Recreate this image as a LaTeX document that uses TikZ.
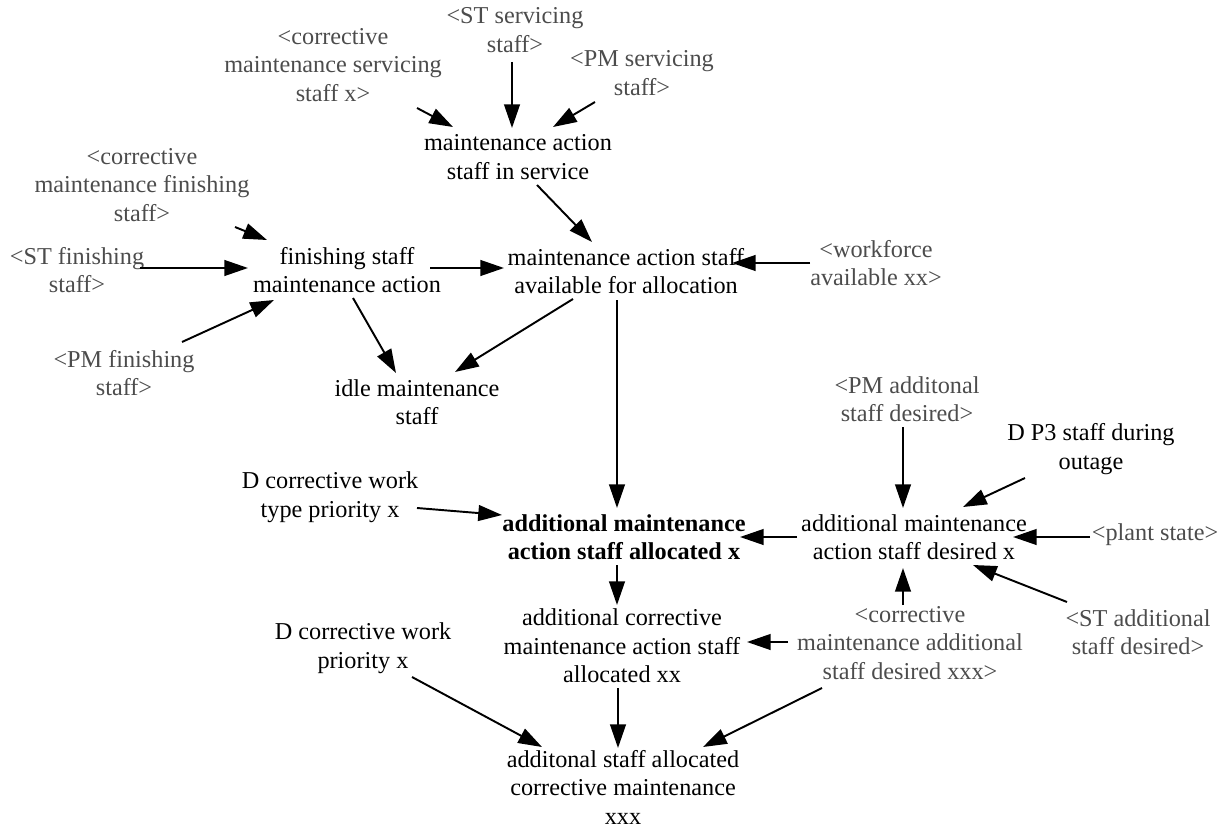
\documentclass[tikz,border=0pt]{standalone}
\usepackage{fontspec}
\setmainfont{Liberation Serif}
\usetikzlibrary{arrows.meta,calc}
\tikzset{
  var/.style={align=center,inner sep=1pt,font=\fontsize{13.8}{16.2}\selectfont},
  shadow/.style={var,text=black!70},
  arr/.style={line width=1.1pt,-{Triangle[length=13.5pt,width=9pt]}}
}
\begin{document}
\begin{tikzpicture}[x=0.02cm,y=-0.02cm]
\useasboundingbox (0,0) rectangle (1225,828);
% nodes
\node[shadow] (csrv) at (333,65) {<corrective\\maintenance servicing\\staff x>};
\node[shadow] (stsrv) at (515,30) {<ST servicing\\staff>};
\node[shadow] (pmsrv) at (642,73) {<PM servicing\\staff>};
\node[var] (insrv) at (518,157) {maintenance action\\staff in service};
\node[shadow] (cfin) at (142,185) {<corrective\\maintenance finishing\\staff>};
\node[shadow] (stfin) at (77,270) {<ST finishing\\staff>};
\node[var] (fin) at (347,270) {finishing staff\\maintenance action};
\node[var] (avail) at (626,271) {maintenance action staff\\available for allocation};
\node[shadow] (wf) at (876,263) {<workforce\\available xx>};
\node[shadow] (pmfin) at (124,373) {<PM finishing\\staff>};
\node[var] (idle) at (417,402) {idle maintenance\\staff};
\node[shadow] (pmadd) at (907,399) {<PM additonal\\staff desired>};
\node[var] (dp3) at (1091,449) {D P3 staff during\\outage};
\node[var] (dtype) at (330,497) {D corrective work\\type priority x};
\node[var,font=\fontsize{13.8}{16.2}\selectfont\bfseries] (alloc) at (624,537) {additional maintenance\\action staff allocated x};
\node[var] (desired) at (914,537) {additional maintenance\\action staff desired x};
\node[shadow] (plant) at (1155,535) {<plant state>};
\node[var] (acm) at (622,646) {additional corrective\\maintenance action staff\\allocated xx};
\node[var] (dprio) at (363,648) {D corrective work\\priority x};
\node[shadow] (cmadd) at (910,643) {<corrective\\maintenance additional\\staff desired xxx>};
\node[shadow] (stadd) at (1138,632) {<ST additional\\staff desired>};
\node[var] (xxx) at (623,787) {additonal staff allocated\\corrective maintenance\\xxx};
% connectors
\draw[arr] ($(csrv)+(84,43)$) -- ($(insrv)+(-65,-30)$);
\draw[arr] ($(stsrv)+(-3,32)$) -- ($(insrv)+(-6,-29)$);
\draw[arr] ($(pmsrv)+(-47,29)$) -- ($(insrv)+(35,-30)$);
\draw[arr] ($(insrv)+(19,28)$) -- ($(avail)+(-34,-29)$);
\draw[arr] ($(cfin)+(93,42)$) -- ($(fin)+(-80,-30)$);
\draw[arr] ($(stfin)+(63,-2)$) -- ($(fin)+(-99,-2)$);
\draw[arr] ($(pmfin)+(58,-31)$) -- ($(fin)+(-73,30)$);
\draw[arr] ($(fin)+(83,-2)$) -- ($(avail)+(-122,-3)$);
\draw[arr] ($(wf)+(-66,0)$) -- ($(avail)+(106,-8)$);
\draw[arr] ($(fin)+(6,28)$) -- ($(idle)+(-21,-29)$);
\draw[arr] ($(avail)+(-53,28)$) -- ($(idle)+(38,-30)$);
\draw[arr] ($(avail)+(-9,29)$) -- ($(alloc)+(-7,-29)$);
\draw[arr] ($(dtype)+(87,11)$) -- ($(alloc)+(-122,-22)$);
\draw[arr] ($(desired)+(-117,0)$) -- ($(alloc)+(116,0)$);
\draw[arr] ($(pmadd)+(-4,28)$) -- ($(desired)+(-11,-29)$);
\draw[arr] ($(dp3)+(-66,29)$) -- ($(desired)+(49,-30)$);
\draw[arr] ($(plant)+(-65,2)$) -- ($(desired)+(99,0)$);
\draw[arr] ($(stadd)+(-71,-30)$) -- ($(desired)+(59,28)$);
\draw[arr] ($(cmadd)+(-7,-38)$) -- ($(desired)+(-11,31)$);
\draw[arr] ($(alloc)+(-7,28)$) -- ($(acm)+(-5,-41)$);
\draw[arr] ($(cmadd)+(-122,-1)$) -- ($(acm)+(125,-4)$);
\draw[arr] ($(dprio)+(49,29)$) -- ($(xxx)+(-81,-40)$);
\draw[arr] ($(acm)+(-4,42)$) -- ($(xxx)+(-5,-39)$);
\draw[arr] ($(cmadd)+(-88,45)$) -- ($(xxx)+(80,-40)$);
\end{tikzpicture}
\end{document}
